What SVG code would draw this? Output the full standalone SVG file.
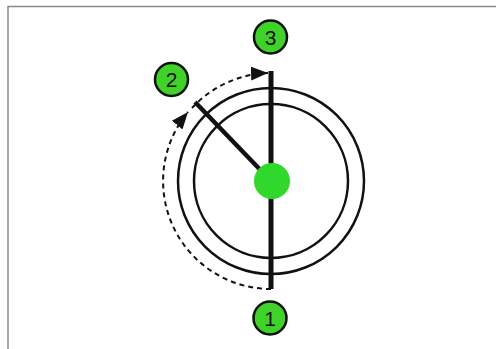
<svg xmlns="http://www.w3.org/2000/svg" width="496" height="349" viewBox="0 0 496 349">
<style>
.ring{fill:none;stroke:#111;stroke-width:2.5}
.dash{fill:none;stroke:#111;stroke-width:2;stroke-dasharray:5 4}
.badge{fill:#3fd32a;stroke:#111;stroke-width:2.5}
.num{font-family:"Liberation Sans",Arial,sans-serif;font-size:21px;fill:#111;text-anchor:middle}
</style>
<defs>
<marker id="ah" markerUnits="userSpaceOnUse" markerWidth="18" markerHeight="16" refX="16" refY="6.5" orient="auto" viewBox="0 0 17 13">
<path d="M0,0 L16,6.5 L0,13 z" fill="#111"/>
</marker>
</defs>
<rect width="496" height="349" fill="#fff"/>
<path d="M8,349 V6.5 H496" fill="none" stroke="#8a8a8a" stroke-width="1.5"/>
<g id="dial">
<circle class="ring" cx="271" cy="181" r="93"/>
<circle class="ring" cx="271" cy="181" r="77"/>
</g>
<g id="connectors">
<path class="dash" d="M271,289 A108,108 0 0 1 188,112" marker-end="url(#ah)"/>
<path class="dash" d="M192,108 A108,108 0 0 1 268,73" marker-end="url(#ah)"/>
</g>
<g id="pointer-vertical">
<line x1="271" y1="71" x2="271" y2="289" stroke="#111" stroke-width="5"/>
</g>
<g id="pointer-angled">
<line x1="271" y1="181" x2="195" y2="102" stroke="#111" stroke-width="4.5"/>
</g>
<g id="hub">
<circle cx="272" cy="181" r="18" fill="#2fd82a"/>
</g>
<g id="label-1">
<circle class="badge" cx="270" cy="318" r="16.5"/>
<text class="num" x="270" y="325.5">1</text>
</g>
<g id="label-2">
<circle class="badge" cx="171.5" cy="79.5" r="16.5"/>
<text class="num" x="171.5" y="87">2</text>
</g>
<g id="label-3">
<circle class="badge" cx="270.5" cy="37" r="16.5"/>
<text class="num" x="270.5" y="44.5">3</text>
</g>
</svg>
